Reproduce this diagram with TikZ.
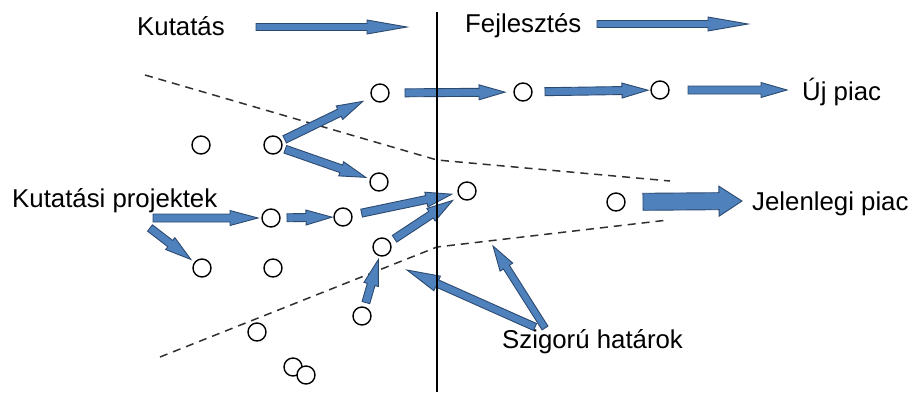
\documentclass[tikz,border=0pt]{standalone}
\usepackage{fontspec}
\setmainfont{Liberation Sans}
\usetikzlibrary{calc}

\definecolor{arrowfill}{HTML}{4F81BD}
\definecolor{arrowline}{HTML}{2C4A70}
\definecolor{limitline}{HTML}{303030}

\tikzset{
  blockarrow/.style={fill=arrowfill, draw=arrowline, line width=0.9pt, line join=miter,
    /utils/exec={\def\arrShaft{4pt}\def\arrHead{7.5pt}\def\arrLen{26pt}}},
  arrow slim/.style={/utils/exec={\def\arrShaft{3.5pt}\def\arrHead{7pt}\def\arrLen{40pt}}},
  arrow wide/.style={/utils/exec={\def\arrShaft{8.5pt}\def\arrHead{15pt}\def\arrLen{23pt}}},
  arrow long/.style={/utils/exec={\def\arrShaft{3.8pt}\def\arrHead{8pt}\def\arrLen{33pt}}},
  arrow bound/.style={/utils/exec={\def\arrShaft{3.5pt}\def\arrHead{7.5pt}\def\arrLen{25pt}}},
  project/.style={circle, draw=black, line width=1.4pt, fill=white, minimum size=18pt, inner sep=0pt},
  label/.style={anchor=base west, inner sep=0pt, text=black, font=\fontsize{25.8}{30}\selectfont},
  limit/.style={draw=limitline, line width=1.5pt, dash pattern=on 8pt off 6pt},
  divider/.style={draw=black, line width=1.2pt}
}

% block arrow from #2 to #3, leaving gaps #4 and #5 at the two ends
\newcommand\blockarrow[5][]{%
  \path[blockarrow,#1]
    let \p1=($(#2)!#4!(#3)$), \p2=($(#3)!#5!(#2)$),
        \p3=($(\p2)-(\p1)$), \n1={atan2(\y3,\x3)}, \n2={veclen(\x3,\y3)}
    in {[shift={(\p1)}, rotate=\n1]
      (0pt,\arrShaft) -- ({\n2-\arrLen},\arrShaft) -- ({\n2-\arrLen},\arrHead)
      -- (\n2,0pt) -- ({\n2-\arrLen},-\arrHead) -- ({\n2-\arrLen},-\arrShaft)
      -- (0pt,-\arrShaft) -- cycle};
}

\begin{document}
\begin{tikzpicture}[x=1pt, y=-1pt]
\useasboundingbox (0,0) rectangle (916,392);

% boundaries of the funnel
\draw[limit] (145,75) -- (437,160) -- (670,181);
\draw[limit] (160,357) -- (437,247) -- (668,220);

% labels
\node[label] (kut) at (137,35) {Kutatás};
\node[label] (fej) at (465,32) {Fejlesztés};
\node[label] (uj) at (802,100) {Új piac};
\node[label] (proj) at (12,207) {Kutatási projektek};
\node[label] (jel) at (752,210) {Jelenlegi piac};
\node[label] (szig) at (502,348) {Szigorú határok};

% projects
\node[project] (c1) at (380,93) {};
\node[project] (c2) at (523,92) {};
\node[project] (c3) at (660,90) {};
\node[project] (c4) at (201,145) {};
\node[project] (c5) at (273,145) {};
\node[project] (c6) at (379,182) {};
\node[project] (c7) at (467,191) {};
\node[project] (c8) at (271,218) {};
\node[project] (c9) at (343,217) {};
\node[project] (c10) at (382,247) {};
\node[project] (c11) at (616,202) {};
\node[project] (c12) at (202,268) {};
\node[project] (c13) at (273,268) {};
\node[project] (c14) at (362,316) {};
\node[project] (c15) at (257,332) {};
\node[project] (c16) at (293,367) {};
\node[project] (c17) at (306,375) {};

% free arrow ends
\coordinate (kutS) at (256,27);
\coordinate (kutE) at (407,27);
\coordinate (fejS) at (597,24);
\coordinate (fejE) at (748,24);
\coordinate (ujE) at (787,90);
\coordinate (projA) at (153,218);
\coordinate (projB) at (150,228);
\coordinate (jelE) at (742,201);
\coordinate (szigA) at (535,327);
\coordinate (szigB) at (545,328);
\coordinate (limA) at (407,270);
\coordinate (limB) at (493,246);

% phase arrows
\blockarrow[arrow slim]{kutS}{kutE}{0pt}{0pt}
\blockarrow[arrow slim]{fejS}{fejE}{0pt}{0pt}

% project flow
\blockarrow{c1}{c2}{25pt}{18pt}
\blockarrow{c2}{c3}{22pt}{12pt}
\blockarrow{c3}{ujE}{28pt}{0pt}
\blockarrow{c5}{c1}{13pt}{19pt}
\blockarrow{c5}{c6}{13pt}{14pt}
\blockarrow[/utils/exec={\def\arrLen{28pt}}]{projA}{c8}{0pt}{13pt}
\blockarrow{c8}{c9}{16pt}{11pt}
\blockarrow{c9}{c7}{19pt}{15.5pt}
\blockarrow{projB}{c12}{0pt}{14pt}
\blockarrow{c10}{c7}{15pt}{17pt}
\blockarrow{c14}{c10}{14pt}{13pt}
\blockarrow[arrow wide]{c11}{jelE}{27pt}{0pt}

% pointers to the strict boundaries
\blockarrow[arrow long]{szigA}{limA}{0pt}{0pt}
\blockarrow[arrow bound]{szigB}{limB}{0pt}{0pt}

% research / development divider
\draw[divider] (437,12) -- (437,392);
\end{tikzpicture}
\end{document}
